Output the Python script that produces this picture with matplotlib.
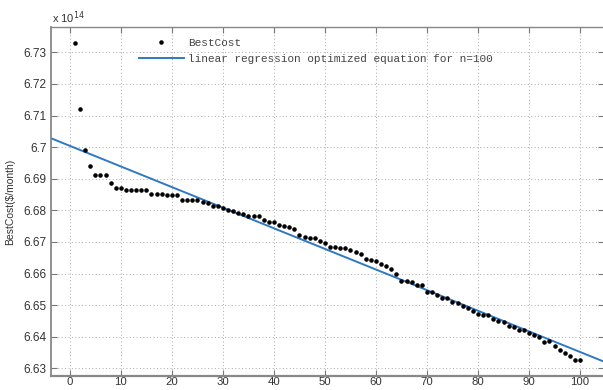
import matplotlib
matplotlib.use("Agg")
import matplotlib.pyplot as plt
import numpy as np

# BestCost per iteration (units of 1e14 $/month)
iterations = np.arange(1, 101)
best_cost = [
    6.7328, 6.7121, 6.6992, 6.6940, 6.6911, 6.6911, 6.6911, 6.6885, 6.6871, 6.6871,
    6.6865, 6.6865, 6.6865, 6.6865, 6.6865, 6.6852, 6.6852, 6.6852, 6.6847, 6.6847,
    6.6847, 6.6833, 6.6833, 6.6833, 6.6833, 6.6827, 6.6822, 6.6814, 6.6814, 6.6809,
    6.6800, 6.6798, 6.6793, 6.6788, 6.6783, 6.6783, 6.6783, 6.6770, 6.6764, 6.6762,
    6.6755, 6.6752, 6.6748, 6.6741, 6.6721, 6.6717, 6.6714, 6.6711, 6.6704, 6.6696,
    6.6685, 6.6683, 6.6682, 6.6680, 6.6676, 6.6669, 6.6662, 6.6646, 6.6643, 6.6641,
    6.6630, 6.6625, 6.6614, 6.6600, 6.6576, 6.6578, 6.6573, 6.6565, 6.6565, 6.6541,
    6.6541, 6.6533, 6.6522, 6.6522, 6.6510, 6.6508, 6.6499, 6.6491, 6.6483, 6.6473,
    6.6468, 6.6468, 6.6457, 6.6449, 6.6447, 6.6434, 6.6431, 6.6423, 6.6421, 6.6413,
    6.6405, 6.6398, 6.6384, 6.6386, 6.6370, 6.6358, 6.6350, 6.6340, 6.6328, 6.6328,
]

# regression line: y = intercept + slope * x
reg_intercept = 6.7004
reg_slope = -0.000652

x_ticks = [0, 10, 20, 30, 40, 50, 60, 70, 80, 90, 100]
y_ticks = [6.63, 6.64, 6.65, 6.66, 6.67, 6.68, 6.69, 6.70, 6.71, 6.72, 6.73]
y_tick_labels = ['6.63', '6.64', '6.65', '6.66', '6.67', '6.68', '6.69', '6.7', '6.71', '6.72', '6.73']

plt.rcParams['font.family'] = ['Liberation Sans', 'DejaVu Sans']

fig = plt.figure(figsize=(6.03, 3.9), dpi=100)
ax = fig.add_axes([51 / 603, 14 / 390, 553 / 603, 349 / 390])

xlim = (-3.7, 104.7)
ax.set_xlim(*xlim)
ax.set_ylim(6.6276, 6.738)

ax.plot(iterations, best_cost, 'k.', markersize=4.5, label='BestCost', zorder=3)
xl = np.array(xlim)
ax.plot(xl, reg_intercept + reg_slope * xl, color='#2f78c4', linewidth=1.4,
        label='linear regression optimized equation for n=100', zorder=2)

ax.set_xticks(x_ticks)
ax.set_yticks(y_ticks)
ax.set_yticklabels(y_tick_labels)
ax.tick_params(direction='in', top=True, right=True, length=4, width=0.8,
               colors='#777777', labelcolor='#333333', labelsize=8.5)
ax.tick_params(axis='x', pad=1, labelsize=8.2)
ax.tick_params(axis='y', pad=3)
ax.grid(True, linestyle=(0, (1, 2.5)), color='#aaaaaa', linewidth=0.7)
for sp in ax.spines.values():
    sp.set_color('#888888')
    sp.set_linewidth(1.0)
ax.spines['bottom'].set_linewidth(1.6)
ax.spines['left'].set_linewidth(1.3)

ax.set_ylabel('BestCost($/month)', fontsize=7.5, color='#333333', labelpad=6)
fig.text(52 / 603, 1 - 18 / 390, r'x 10$^{14}$', fontsize=8, color='#333333',
         va='center', ha='left')

leg = ax.legend(loc='upper left', bbox_to_anchor=(77 / 553, 1.0),
                frameon=False, prop={'family': 'Liberation Mono', 'size': 8},
                handlelength=4.0, handletextpad=0.4, labelspacing=0.55,
                borderaxespad=0.6)
for t in leg.get_texts():
    t.set_color('#444444')

fig.savefig('out.png', dpi=100)
